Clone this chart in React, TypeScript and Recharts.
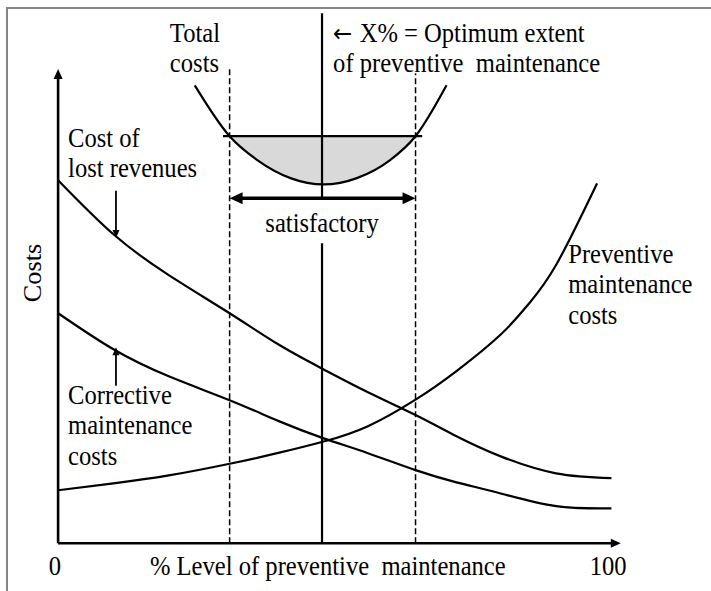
import React from "react";
import { ComposedChart, XAxis, YAxis, Line, Area, Scatter, ReferenceLine } from "recharts";

const WIDTH = 711;
const HEIGHT = 591;
// domains chosen so the plot area fills the whole picture (x 0..100 = axis 0..100)
const X_DOMAIN: [number, number] = [-10.5, 118];
const Y_DOMAIN: [number, number] = [-9, 102.5];
const FONT = '"Liberation Serif", "Times New Roman", serif';
const FONT_SIZE = 24.6;
const STRETCH = 1.07; // the scanned figure is slightly taller than wide

// cost curves (x = % level of preventive maintenance)
const lostRevenueX = [0, 10, 20, 31, 40, 48, 56, 64.6, 72, 80, 90, 100];
const lostRevenueY = [68.5, 58.3, 50.6, 43.4, 37.4, 32.8, 28.5, 24.2, 20.2, 16.4, 13.2, 12.3];
const correctiveY = [43.4, 36.6, 31.5, 27.0, 23.0, 19.8, 17.0, 13.8, 11.5, 9.4, 7.0, 6.6];
const preventiveX = [0, 10, 20, 31, 40, 48, 56, 64.6, 72, 80, 85, 90, 97.4];
const preventiveY = [10.0, 11.3, 12.8, 15.0, 17.1, 19.2, 22.1, 27.1, 32.5, 39.4, 45.1, 52.5, 67.9];
const totalX = [24.7, 31, 36, 42, 48, 54, 60, 64.6, 70.2];
const totalY = [86.4, 76.8, 72.3, 68.9, 67.7, 68.9, 72.3, 76.8, 86.4];

const optimumX = 47.7;
const satisfactoryRange = [31, 64.6];
const satisfactoryLevel = 76.8;
const xTicks = ["0", "100"];
const xTickValues = [0, 100];

const lostRevenueData = lostRevenueX.map((x, i) => ({ x, y: lostRevenueY[i] }));
const correctiveData = lostRevenueX.map((x, i) => ({ x, y: correctiveY[i] }));
const preventiveData = preventiveX.map((x, i) => ({ x, y: preventiveY[i] }));
const totalData = totalX.map((x, i) => ({ x, y: totalY[i] }));
const bandData = totalData
  .filter((d) => d.x >= satisfactoryRange[0] && d.x <= satisfactoryRange[1])
  .map((d) => ({ x: d.x, range: [d.y, satisfactoryLevel] }));

// text placement (data units)
const annotations = [
  { x: 20.2, y: 94.6, lines: ["Total", "costs"] },
  { x: 49.7, y: 94.6, lines: ["X% = Optimum extent", "of preventive  maintenance"], arrow: true },
  { x: 1.8, y: 74.8, lines: ["Cost of", "lost revenues"] },
  { x: optimumX, y: 58.7, lines: ["satisfactory"], anchor: "middle" },
  { x: 1.8, y: 26.3, lines: ["Corrective", "maintenance", "costs"] },
  { x: 92.2, y: 52.9, lines: ["Preventive", "maintenance", "costs"] },
  { x: -3.1, y: 51.0, lines: ["Costs"], anchor: "middle", rotate: -90 },
  { x: 16.6, y: -6.0, lines: ["% Level of preventive  maintenance"] },
  ...xTicks.map((t, i) => ({ x: xTickValues[i] - 0.6, y: -6.0, lines: [t], anchor: "middle" })),
];

function TextShape(props: any) {
  const { cx, cy, payload } = props;
  const anchor = payload.anchor || "start";
  const rot = payload.rotate ? ` rotate(${payload.rotate})` : "";
  return (
    <text
      x={cx}
      y={cy}
      textAnchor={anchor}
      fontFamily={FONT}
      fontSize={FONT_SIZE}
      fill="#000"
      style={{ whiteSpace: "pre" }}
      transform={`translate(${cx} ${cy}) scale(1 ${STRETCH})${rot} translate(${-cx} ${-cy})`}
    >
      {payload.lines.map((l: string, i: number) => (
        <tspan key={i} x={cx} dy={i === 0 ? 0 : 28.5}>
          {i === 0 && payload.arrow && (
            <tspan fontFamily='"DejaVu Sans", sans-serif' fontSize={23}>
              {"\u2190 "}
            </tspan>
          )}
          {l}
        </tspan>
      ))}
    </text>
  );
}

// line with filled arrow head(s)
const arrowShape = (head: number, half: number, width: number, both = false) => (props: any) => {
  const { x1, y1, x2, y2 } = props;
  const dx = x2 - x1;
  const dy = y2 - y1;
  const len = Math.hypot(dx, dy) || 1;
  const ux = dx / len;
  const uy = dy / len;
  const nx = -uy;
  const ny = ux;
  const tri = (tx: number, ty: number, sx: number, sy: number) =>
    `${tx},${ty} ${tx - sx * head + nx * half},${ty - sy * head + ny * half} ${tx - sx * head - nx * half},${ty - sy * head - ny * half}`;
  const sx = both ? x1 + ux * head * 0.8 : x1;
  const sy = both ? y1 + uy * head * 0.8 : y1;
  return (
    <g>
      <line x1={sx} y1={sy} x2={x2 - ux * head * 0.8} y2={y2 - uy * head * 0.8} stroke="#000" strokeWidth={width} />
      <polygon points={tri(x2, y2, ux, uy)} fill="#000" />
      {both && <polygon points={tri(x1, y1, -ux, -uy)} fill="#000" />}
    </g>
  );
};

export default function App() {
  return (
    <div style={{ position: "absolute", left: 0, top: 0, width: WIDTH, height: HEIGHT, overflow: "hidden", background: "#fff" }}>
      <div
        style={{
          position: "absolute",
          left: 6,
          top: 7,
          width: WIDTH,
          height: HEIGHT,
          borderTop: "2px solid #858585",
          borderLeft: "2px solid #858585",
        }}
      />
      <div style={{ position: "absolute", left: 0, top: 0 }}>
        <ComposedChart width={WIDTH} height={HEIGHT} margin={{ top: 0, right: 0, bottom: 0, left: 0 }}>
          <XAxis type="number" dataKey="x" domain={X_DOMAIN} allowDataOverflow hide />
          <YAxis type="number" dataKey="y" domain={Y_DOMAIN} allowDataOverflow hide />

          <Area
            data={bandData}
            dataKey="range"
            type="monotone"
            fill="#d9d9d9"
            fillOpacity={1}
            stroke="none"
            isAnimationActive={false}
          />

          <ReferenceLine
            segment={[{ x: satisfactoryRange[0], y: 0 }, { x: satisfactoryRange[0], y: 89.7 }]}
            stroke="#000"
            strokeWidth={1.5}
            strokeDasharray="6 3"
          />
          <ReferenceLine
            segment={[{ x: satisfactoryRange[1], y: 0 }, { x: satisfactoryRange[1], y: 88.7 }]}
            stroke="#000"
            strokeWidth={1.5}
            strokeDasharray="6 3"
          />
          <ReferenceLine
            segment={[{ x: optimumX, y: 100 }, { x: optimumX, y: 65.1 }]}
            stroke="#000"
            strokeWidth={2.2}
          />
          <ReferenceLine
            segment={[{ x: optimumX, y: 56.6 }, { x: optimumX, y: 0 }]}
            stroke="#000"
            strokeWidth={2.2}
          />
          <ReferenceLine
            segment={[{ x: 29.8, y: satisfactoryLevel }, { x: 65.8, y: satisfactoryLevel }]}
            stroke="#000"
            strokeWidth={2.2}
          />

          <Line data={totalData} dataKey="y" type="monotone" stroke="#000" strokeWidth={2.2} dot={false} isAnimationActive={false} />
          <Line data={lostRevenueData} dataKey="y" type="natural" stroke="#000" strokeWidth={2.2} dot={false} isAnimationActive={false} />
          <Line data={correctiveData} dataKey="y" type="natural" stroke="#000" strokeWidth={2.2} dot={false} isAnimationActive={false} />
          <Line data={preventiveData} dataKey="y" type="natural" stroke="#000" strokeWidth={2.2} dot={false} isAnimationActive={false} />

          {/* axes with arrow heads */}
          <ReferenceLine segment={[{ x: 0, y: 0 }, { x: 0, y: 89.5 }]} shape={arrowShape(10, 4.5, 2.6)} />
          <ReferenceLine segment={[{ x: 0, y: 0 }, { x: 101.7, y: 0 }]} shape={arrowShape(10, 4.5, 2.6)} />
          {/* satisfactory double arrow */}
          <ReferenceLine
            segment={[{ x: satisfactoryRange[0], y: 65.1 }, { x: satisfactoryRange[1], y: 65.1 }]}
            shape={arrowShape(13, 6, 3.5, true)}
          />
          {/* callouts */}
          <ReferenceLine segment={[{ x: 10.46, y: 66.5 }, { x: 10.46, y: 57.6 }]} shape={arrowShape(8, 3.5, 1.8)} />
          <ReferenceLine segment={[{ x: 10.46, y: 29.7 }, { x: 10.46, y: 37.0 }]} shape={arrowShape(8, 3.5, 1.8)} />

          <Scatter data={annotations} dataKey="y" shape={TextShape} isAnimationActive={false} />
        </ComposedChart>
      </div>
    </div>
  );
}
